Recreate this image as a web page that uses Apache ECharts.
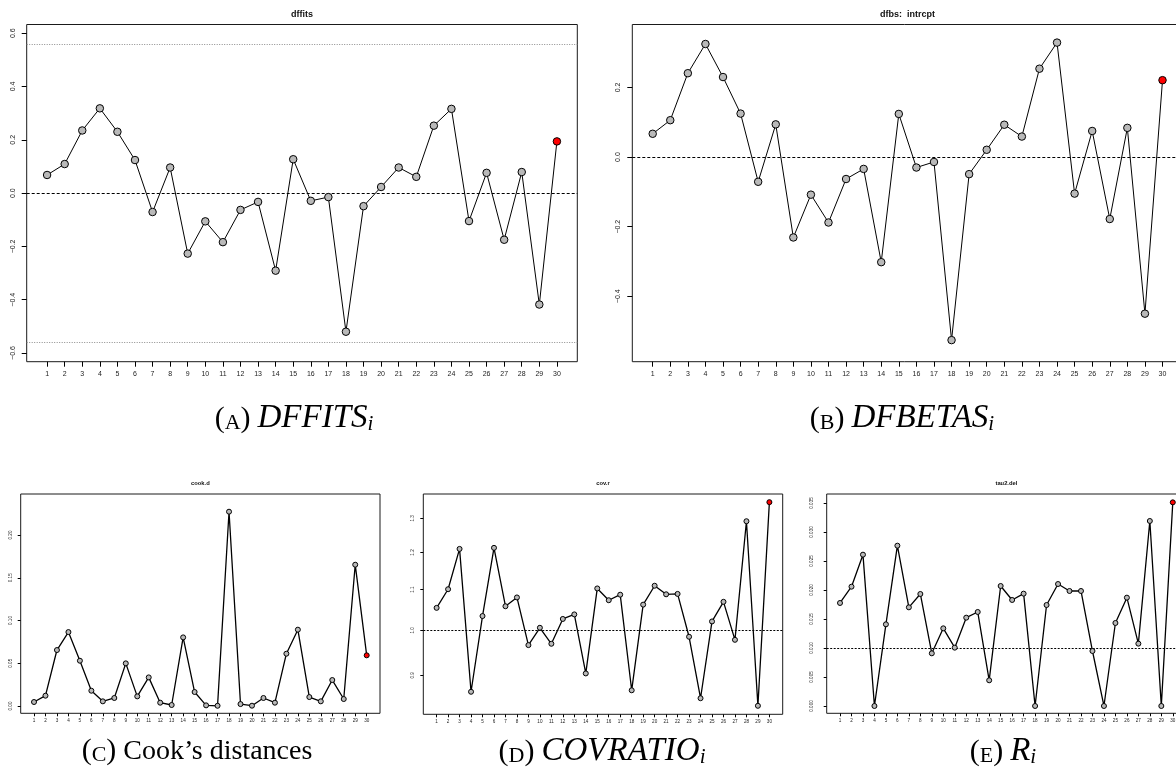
<!DOCTYPE html>
<html>
<head>
<meta charset="utf-8">
<script src="https://cdn.jsdelivr.net/npm/echarts@6/dist/echarts.min.js"></script>
<style>
  html, body { margin: 0; padding: 0; background: #ffffff; }
  #chart { width: 1176px; height: 779px; }
</style>
</head>
<body>
<div id="chart"></div>
<script>
// Study index and leave-one-out influence diagnostics
const studies = [1, 2, 3, 4, 5, 6, 7, 8, 9, 10, 11, 12, 13, 14, 15, 16, 17, 18, 19, 20, 21, 22, 23, 24, 25, 26, 27, 28, 29, 30];
const flaggedStudy = 30;

const dffits = [0.068, 0.109, 0.235, 0.318, 0.230, 0.124, -0.071, 0.096, -0.227, -0.106,
                -0.184, -0.063, -0.033, -0.291, 0.127, -0.029, -0.015, -0.520, -0.049, 0.023,
                0.096, 0.061, 0.253, 0.316, -0.105, 0.076, -0.175, 0.079, -0.418, 0.194];
const dfbsIntrcpt = [0.067, 0.106, 0.241, 0.325, 0.230, 0.125, -0.071, 0.094, -0.231, -0.108,
                     -0.188, -0.063, -0.034, -0.302, 0.124, -0.030, -0.014, -0.526, -0.049, 0.021,
                     0.093, 0.059, 0.254, 0.329, -0.105, 0.075, -0.178, 0.084, -0.450, 0.221];
const cookD = [0.0047, 0.0121, 0.0655, 0.0865, 0.0530, 0.0179, 0.0055, 0.0094, 0.0499, 0.0113,
               0.0335, 0.0039, 0.0012, 0.0803, 0.0164, 0.0008, 0.0003, 0.2273, 0.0023, 0.0004,
               0.0094, 0.0039, 0.0612, 0.0893, 0.0105, 0.0055, 0.0304, 0.0082, 0.1653, 0.0593];
const covR = [1.054, 1.101, 1.210, 0.866, 1.034, 1.213, 1.058, 1.080, 0.966, 1.006,
              0.969, 1.027, 1.038, 0.904, 1.103, 1.073, 1.087, 0.869, 1.062, 1.110,
              1.088, 1.089, 0.985, 0.853, 1.021, 1.069, 0.978, 1.291, 0.838, 1.350];
const tau2Del = [0.01776, 0.02057, 0.02609, 0.0, 0.01408, 0.02764, 0.01701, 0.01931, 0.00908, 0.01339,
                 0.01006, 0.01523, 0.01621, 0.00443, 0.02069, 0.01828, 0.01937, 0.0, 0.01741, 0.02103,
                 0.01983, 0.01983, 0.00948, 0.0, 0.01431, 0.01868, 0.01075, 0.0319, 0.0, 0.03511];

// Reference values
const dffitsCutoff = 0.5577;
const tau2Full = 0.01414;

// Tick labels
const dffitsTicks = ['-0.6', '-0.4', '-0.2', '0.0', '0.2', '0.4', '0.6'];
const dfbsTicks = ['-0.4', '-0.2', '0.0', '0.2'];
const cookTicks = ['0.00', '0.05', '0.10', '0.15', '0.20'];
const covTicks = ['0.9', '1.0', '1.1', '1.2', '1.3'];
const tau2Ticks = ['0.000', '0.005', '0.010', '0.015', '0.020', '0.025', '0.030', '0.035'];
const studyTicks = studies.map(String);

const panelTitles = ['dffits', 'dfbs:  intrcpt', 'cook.d', 'cov.r', 'tau2.del'];

const SANS = 'Liberation Sans, Arial, sans-serif';
const SERIF = 'Liberation Serif, Times New Roman, serif';

const panels = [
  { values: dffits, ticks: dffitsTicks, type: 'value', min: -0.6325, max: 0.6325,
    grid: { left: 26.7, top: 24.5, width: 550.6, height: 337.2 }, big: true,
    refs: [
      { y: 0, color: '#000', dash: [3, 2] },
      { y: dffitsCutoff, color: '#8c8c8c', dash: [1, 1.5] },
      { y: -dffitsCutoff, color: '#8c8c8c', dash: [1, 1.5] }
    ], yMargin: 10 },
  { values: dfbsIntrcpt, ticks: dfbsTicks, type: 'value', min: -0.588, max: 0.381,
    grid: { left: 632.3, top: 24.5, width: 550.6, height: 337.2 }, big: true,
    refs: [{ y: 0, color: '#000', dash: [3, 2] }], yMargin: 11 },
  { values: cookD, ticks: cookTicks, type: 'value', min: -0.0085, max: 0.248,
    grid: { left: 20.7, top: 494, width: 359.3, height: 219.3 }, big: false,
    refs: [], yMargin: 7.5 },
  { values: covR, ticks: covTicks, type: 'log', min: 0.8215, max: 1.376,
    grid: { left: 423.3, top: 494, width: 359.4, height: 220.3 }, big: false,
    refs: [{ y: 1, color: '#000', dash: [2, 1.5] }], yMargin: 8 },
  { values: tau2Del, ticks: tau2Ticks, type: 'value', min: -0.00126, max: 0.03655,
    grid: { left: 826.7, top: 494, width: 359.4, height: 219.3 }, big: false,
    refs: [{ y: tau2Full, color: '#000', dash: [2, 1.5] }], yMargin: 12 }
];

const grids = [], xAxes = [], yAxes = [], series = [], graphics = [];

panels.forEach(function (p, i) {
  const tickNums = p.ticks.map(Number);
  const labelSize = p.big ? 7 : 4.6;
  const tickLen = p.big ? 5 : 3;

  grids.push(Object.assign({
    show: true, borderColor: '#1a1a1a', borderWidth: 1, backgroundColor: 'transparent',
    containLabel: false, outerBoundsMode: 'none'
  }, p.grid));

  xAxes.push({
    gridIndex: i, type: 'value', min: -0.16, max: 31.16, position: 'bottom',
    axisLine: { show: false, onZero: false }, splitLine: { show: false },
    axisTick: { show: true, inside: false, customValues: studies, length: tickLen, lineStyle: { color: '#000', width: 1 } },
    axisLabel: {
      customValues: studies, fontSize: labelSize, color: '#222', fontFamily: SANS,
      margin: p.big ? 9 : 5,
      formatter: function (v) { return studyTicks[studies.indexOf(Math.round(v))] || ''; }
    }
  });

  yAxes.push({
    gridIndex: i, type: p.type, min: p.min, max: p.max, position: 'left',
    axisLine: { show: false, onZero: false }, splitLine: { show: false },
    axisTick: { show: true, inside: false, customValues: tickNums, length: tickLen, lineStyle: { color: '#000', width: 1 } },
    axisLabel: {
      customValues: tickNums, rotate: 90, fontSize: labelSize, color: '#222', fontFamily: SANS,
      margin: p.yMargin,
      formatter: function (v) {
        for (let k = 0; k < tickNums.length; k++) {
          if (Math.abs(tickNums[k] - v) < 1e-9) return p.ticks[k].replace('-', '\u2212');
        }
        return '';
      }
    }
  });

  const data = p.values.map(function (v, k) {
    if (studies[k] === flaggedStudy) {
      return { value: [studies[k], v], itemStyle: { color: '#ff0000' } };
    }
    return [studies[k], v];
  });

  series.push({
    type: 'line', xAxisIndex: i, yAxisIndex: i, data: data,
    symbol: 'circle', symbolSize: p.big ? 7.5 : 5, showSymbol: true,
    lineStyle: { color: '#000', width: p.big ? 1 : 1.3 },
    itemStyle: { color: '#b9b9b9', borderColor: '#000', borderWidth: 1 },
    clip: false, silent: true, z: 3,
    markLine: p.refs.length ? {
      silent: true, symbol: ['none', 'none'], label: { show: false },
      animation: false, z: 2,
      data: p.refs.map(function (r) {
        return { yAxis: r.y, lineStyle: { color: r.color, type: r.dash, width: 1 } };
      })
    } : undefined
  });

  // Panel heading, centred over the plot box
  graphics.push({
    type: 'text',
    x: p.grid.left + p.grid.width / 2,
    y: p.big ? 14.5 : 483.5,
    style: {
      text: panelTitles[i], fill: '#111',
      font: 'bold ' + (p.big ? 9 : 5.8) + 'px ' + SANS,
      textAlign: 'center', textVerticalAlign: 'middle'
    }
  });
});

// Sub-figure captions
const capRich = {
  p:  { fontFamily: SERIF, fontSize: 30, lineHeight: 30, verticalAlign: 'bottom', color: '#000' },
  sc: { fontFamily: SERIF, fontSize: 22, lineHeight: 22, verticalAlign: 'bottom', color: '#000' },
  r:  { fontFamily: SERIF, fontSize: 28, lineHeight: 28, verticalAlign: 'bottom', color: '#000' },
  m:  { fontFamily: SERIF, fontSize: 33, lineHeight: 33, fontStyle: 'italic', verticalAlign: 'bottom', color: '#000' },
  s:  { fontFamily: SERIF, fontSize: 21, lineHeight: 15, fontStyle: 'italic', verticalAlign: 'bottom', color: '#000' }
};
const captions = [
  { x: 294, y: 418, text: '{p|(}{sc|A}{p|)} {m|DFFITS}{s|i}' },
  { x: 902, y: 418, text: '{p|(}{sc|B}{p|)} {m|DFBETAS}{s|i}' },
  { x: 197, y: 751, text: '{p|(}{sc|C}{p|)} {r|Cook\u2019s distances}' },
  { x: 602, y: 751, text: '{p|(}{sc|D}{p|)} {m|COVRATIO}{s|i}' },
  { x: 1003, y: 751, text: '{p|(}{sc|E}{p|)} {m|R}{s|i}' }
];
captions.forEach(function (c) {
  graphics.push({
    type: 'text', x: c.x, y: c.y,
    style: {
      text: c.text, rich: capRich, fill: '#000',
      font: '28px ' + SERIF,
      textAlign: 'center', textVerticalAlign: 'middle'
    }
  });
});

const chart = echarts.init(document.getElementById('chart'), null, { renderer: 'canvas' });
chart.setOption({
  animation: false,
  backgroundColor: '#ffffff',
  grid: grids,
  xAxis: xAxes,
  yAxis: yAxes,
  series: series,
  graphic: graphics
});
</script>
</body>
</html>
